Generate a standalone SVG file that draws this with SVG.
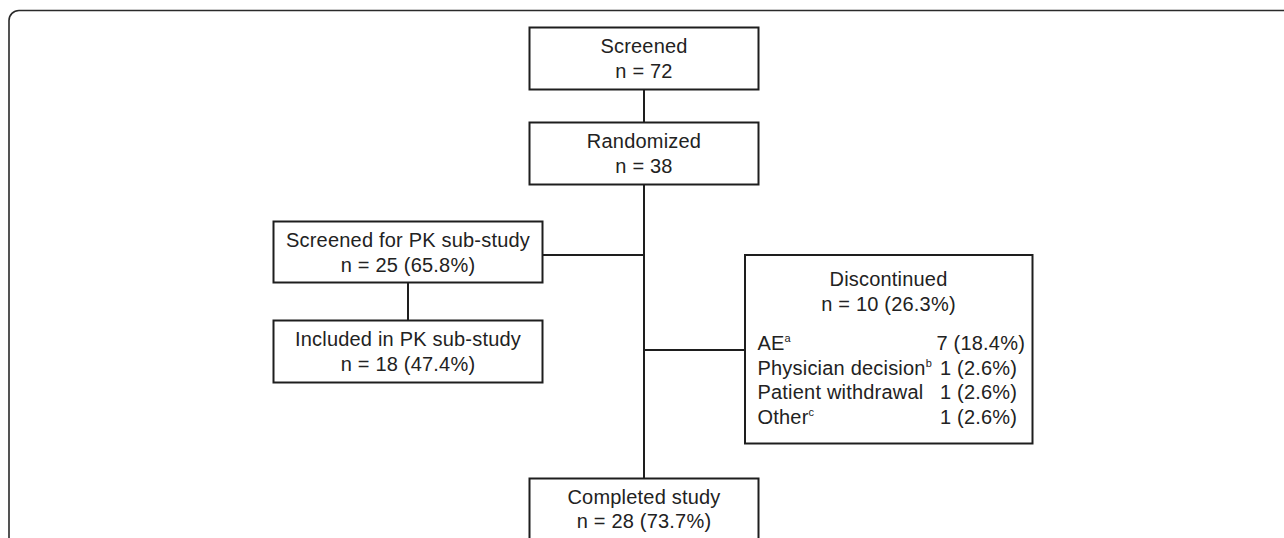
<svg xmlns="http://www.w3.org/2000/svg" width="1284" height="538" viewBox="0 0 1284 538">
<style>
.frame{fill:none;stroke:#2a2a2a;stroke-width:1.6}
.box{fill:#fff;stroke:#1e1e1e;stroke-width:2}
.conn{fill:none;stroke:#1e1e1e;stroke-width:2}
text{font-family:"Liberation Sans",Arial,sans-serif;font-size:20px;fill:#222;letter-spacing:0.2px}
.c{text-anchor:middle}
.sup{font-size:11px}
</style>
<rect class="frame" x="9" y="10.5" width="1300" height="560" rx="10" ry="10"/>
<g id="connectors">
<line class="conn" x1="644" y1="89" x2="644" y2="123"/>
<line class="conn" x1="644" y1="184" x2="644" y2="478"/>
<line class="conn" x1="543" y1="255" x2="644" y2="255"/>
<line class="conn" x1="408" y1="283" x2="408" y2="321"/>
<line class="conn" x1="644" y1="350" x2="745" y2="350"/>
</g>
<g id="screened">
<rect class="box" x="529.5" y="27.5" width="229" height="62"/>
<text class="c" x="644" y="53">Screened</text>
<text class="c" x="644" y="78">n = 72</text>
</g>
<g id="randomized">
<rect class="box" x="529.5" y="122.5" width="229" height="62"/>
<text class="c" x="644" y="148">Randomized</text>
<text class="c" x="644" y="173">n = 38</text>
</g>
<g id="pk-screened">
<rect class="box" x="273.5" y="221.5" width="269" height="61"/>
<text class="c" x="408" y="247">Screened for PK sub-study</text>
<text class="c" x="408" y="271.5">n = 25 (65.8%)</text>
</g>
<g id="pk-included">
<rect class="box" x="273.5" y="320.5" width="269" height="62"/>
<text class="c" x="408" y="346">Included in PK sub-study</text>
<text class="c" x="408" y="370.5">n = 18 (47.4%)</text>
</g>
<g id="discontinued">
<rect class="box" x="745" y="255" width="287.5" height="188.5"/>
<text class="c" x="888.5" y="286">Discontinued</text>
<text class="c" x="888.5" y="310.5">n = 10 (26.3%)</text>
<text x="757.5" y="350">AE<tspan class="sup" dy="-8">a</tspan></text>
<text x="936.5" y="350">7 (18.4%)</text>
<text x="757.5" y="374.5">Physician decision<tspan class="sup" dy="-8">b</tspan></text>
<text x="940" y="374.5">1 (2.6%)</text>
<text x="757.5" y="399">Patient withdrawal</text>
<text x="940" y="399">1 (2.6%)</text>
<text x="757.5" y="423.5">Other<tspan class="sup" dy="-8">c</tspan></text>
<text x="940" y="423.5">1 (2.6%)</text>
</g>
<g id="completed">
<rect class="box" x="529.5" y="478.5" width="229" height="80"/>
<text class="c" x="644" y="504">Completed study</text>
<text class="c" x="644" y="527.5">n = 28 (73.7%)</text>
</g>
</svg>
